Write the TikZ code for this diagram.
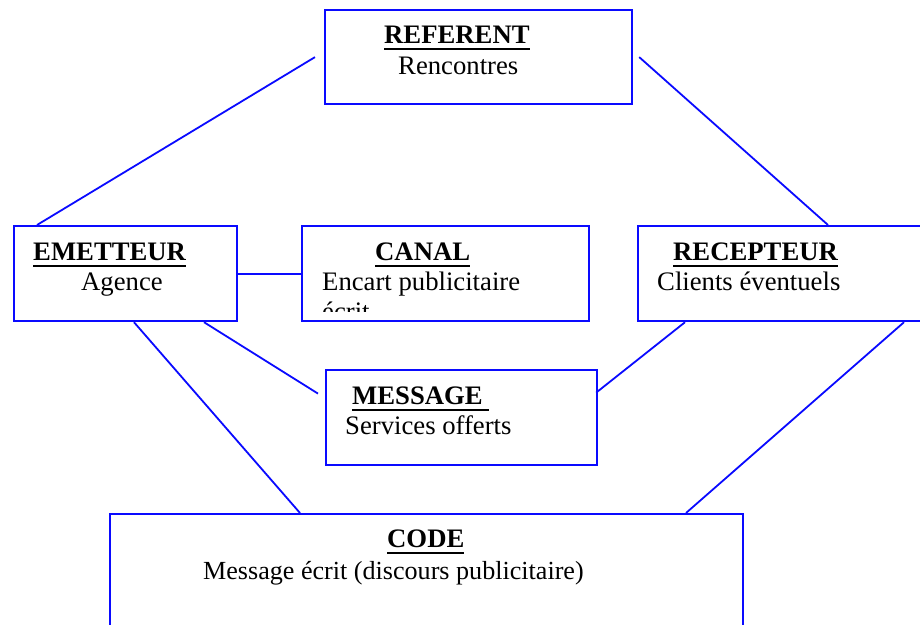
\documentclass[tikz,border=0pt]{standalone}
\usepackage{fontspec}
\setmainfont{Liberation Serif}
\usetikzlibrary{calc}
\definecolor{boxblue}{RGB}{10,10,255}
\tikzset{
  box/.style={draw=boxblue, line width=2.2pt, rectangle, inner sep=0pt, anchor=north west},
  txt/.style={inner sep=0pt, anchor=base west, font=\fontsize{26.7}{32}\selectfont},
  link/.style={draw=boxblue, line width=1.8pt}
}
\newcommand{\ttl}[1]{\textbf{\setbox0=\hbox{#1}\rlap{\rule[-7.2pt]{\wd0}{2.4pt}}\box0}}
\begin{document}
\begin{tikzpicture}[x=1pt,y=-1pt]
\path[use as bounding box] (0,0) rectangle (920,624);
\clip (0,0) rectangle (920,624);
% boxes
\node[box, minimum width=307pt, minimum height=94pt] (referent) at (324,9) {};
\node[box, minimum width=223pt, minimum height=95pt] (emetteur) at (13,225) {};
\node[box, minimum width=287pt, minimum height=95pt] (canal) at (301,225) {};
\node[box, minimum width=293pt, minimum height=95pt] (recepteur) at (637,225) {};
\node[box, minimum width=271pt, minimum height=95pt] (message) at (325,369) {};
\node[box, minimum width=633pt, minimum height=127pt] (code) at (109,513) {};
% texts
\node[txt] (t1) at (384,43) {\ttl{REFERENT}};
\node[txt] (t1b) at (398,74) {Rencontres};
\node[txt] (t2) at (33,260) {\ttl{EMETTEUR}};
\node[txt] (t2b) at (81,290) {Agence};
\node[txt] (t3) at (375,260) {\ttl{CANAL}};
\node[txt] (t3b) at (322,290) {Encart publicitaire};
\begin{scope}
\clip (301,225) rectangle (588,311);
\node[txt] (t3c) at (322,320) {écrit};
\end{scope}
\node[txt] (t4) at (673,260) {\ttl{RECEPTEUR}};
\node[txt] (t4b) at (657,290) {Clients éventuels};
\node[txt] (t5) at (352,404) {\ttl{MESSAGE\ }};
\node[txt] (t5b) at (345,434) {Services offerts};
\node[txt] (t6) at (387,547) {\ttl{CODE}};
\node[txt, font=\fontsize{26.1}{32}\selectfont] (t6b) at (203,579) {Message écrit (discours publicitaire)};
% connectors
\draw[link] ($(referent.west)+(-9,0)$) -- ($(emetteur.north west)+(24,0)$);
\draw[link] ($(referent.east)+(6,0)$) -- ($(recepteur.north west)+(191,0)$);
\draw[link] (emetteur.east) -- (canal.west);
\draw[link] ($(emetteur.south west)+(191,0)$) -- ($(message.west)+(-7,-24)$);
\draw[link] ($(emetteur.south west)+(121,0)$) -- ($(code.north west)+(191,0)$);
\draw[link] ($(recepteur.south west)+(48,0)$) -- ($(message.east)+(-2,-25)$);
\draw[link] ($(recepteur.south west)+(267,0)$) -- ($(code.north west)+(577,0)$);
\end{tikzpicture}
\end{document}
